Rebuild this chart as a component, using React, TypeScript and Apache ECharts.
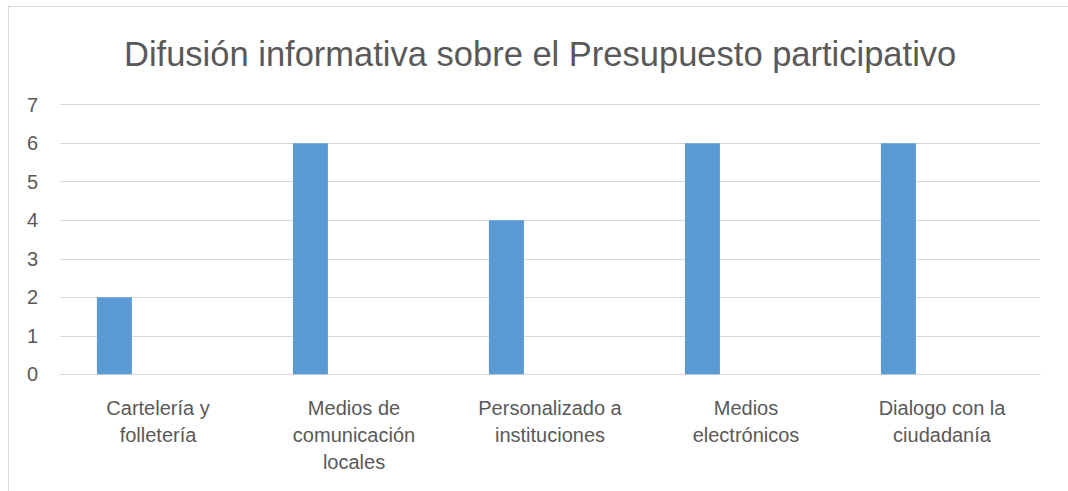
import React, { useEffect, useRef } from "react";
import * as echarts from "echarts";

const TITLE = "Difusión informativa sobre el Presupuesto participativo";
const categories = [
  "Cartelería y\nfolletería",
  "Medios de\ncomunicación\nlocales",
  "Personalizado a\ninstituciones",
  "Medios\nelectrónicos",
  "Dialogo con la\nciudadanía",
];
const serie1 = [2, 6, 4, 6, 6];
const serie2: (number | null)[] = [null, null, null, null, null];
const yTicks = { min: 0, max: 7, interval: 1 };

const FONT = "'Liberation Sans', Arial, sans-serif";
const TEXT = "#595959";
const GRID = "#d9d9d9";

export default function App() {
  const ref = useRef<HTMLDivElement>(null);
  useEffect(() => {
    document.body.style.margin = "0";
    const chart = echarts.init(ref.current!, null, { renderer: "svg" });
    chart.setOption({
      animation: false,
      backgroundColor: "#ffffff",
      title: {
        text: TITLE,
        left: 124,
        top: 36,
        padding: 0,
        textStyle: { fontFamily: FONT, fontSize: 34.5, fontWeight: "normal", color: TEXT },
      },
      grid: {
        left: 60,
        right: 28,
        top: 104.7,
        bottom: 116.7,
        containLabel: false,
        outerBoundsMode: "none",
      },
      xAxis: {
        type: "category",
        data: categories,
        axisLine: { show: true, lineStyle: { color: GRID, width: 1 } },
        axisTick: { show: false },
        axisLabel: {
          interval: 0,
          margin: 20,
          lineHeight: 27,
          fontFamily: FONT,
          fontSize: 20,
          color: TEXT,
        },
      },
      yAxis: {
        type: "value",
        min: yTicks.min,
        max: yTicks.max,
        interval: yTicks.interval,
        axisLine: { show: false },
        axisTick: { show: false },
        splitLine: { lineStyle: { color: GRID, width: 1 } },
        axisLabel: { margin: 22, fontFamily: FONT, fontSize: 20, color: TEXT },
      },
      series: [
        {
          name: "Serie 1",
          type: "bar",
          data: serie1,
          barWidth: 35,
          barGap: "149%",
          itemStyle: { color: "#5b9bd5" },
        },
        {
          name: "Serie 2",
          type: "bar",
          data: serie2,
          barWidth: 35,
          itemStyle: { color: "#ed7d31" },
        },
      ],
      graphic: [
        { type: "line", shape: { x1: 8.5, y1: 6, x2: 8.5, y2: 491 }, style: { stroke: GRID, lineWidth: 1 } },
        { type: "line", shape: { x1: 8, y1: 6.5, x2: 1068, y2: 6.5 }, style: { stroke: GRID, lineWidth: 1 } },
      ],
    });
    return () => chart.dispose();
  }, []);
  return <div ref={ref} style={{ width: 1068, height: 491 }} />;
}
